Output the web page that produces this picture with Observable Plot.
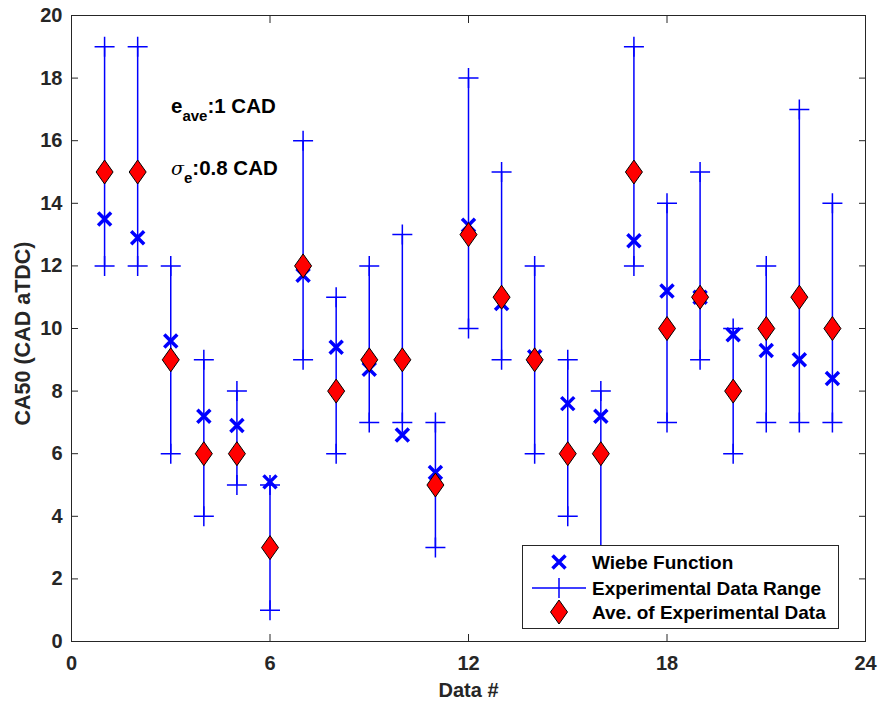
<!DOCTYPE html>
<html>
<head>
<meta charset="utf-8">
<script src="https://cdn.jsdelivr.net/npm/d3@7"></script>
<script src="https://cdn.jsdelivr.net/npm/@observablehq/plot@0.6"></script>
<style>
  body { margin: 0; background: #fff; }
  #wrap { position: relative; width: 879px; height: 704px; font-family: "Liberation Sans", Arial, Helvetica, sans-serif; color: #262626; }
  .ann { position: absolute; font-weight: bold; font-size: 20.5px; white-space: nowrap; line-height: 1; color: #000; }
  .ann sub { font-size: 15px; vertical-align: baseline; position: relative; top: 8px; }
  #legend { position: absolute; left: 522px; top: 545px; width: 317px; height: 84px; border: 1px solid #262626; background: #fff; box-sizing: border-box; }
  .row { position: absolute; left: 0; height: 24px; width: 100%; }
  .row svg { position: absolute; left: 0; top: 0; overflow: visible; }
  .row span { position: absolute; left: 69px; top: 3px; font-weight: bold; font-size: 19px; line-height: 1; color: #000; white-space: nowrap; }
</style>
</head>
<body>
<div id="wrap"></div>
<script>
const dataNum = [1,2,3,4,5,6,7,8,9,10,11,12,13,14,15,16,17,18,19,20,21,22,23];
const wiebe = [13.5,12.9,9.6,7.2,6.9,5.1,11.7,9.4,8.7,6.6,5.4,13.3,10.8,9.1,7.6,7.2,12.8,11.2,11.0,9.8,9.3,9.0,8.4];
const aveExp = [15,15,9,6,6,3,12,8,9,9,5,13,11,9,6,6,15,10,11,8,10,11,10];
const rangeMin = [12,12,6,4,5,1,9,6,7,7,3,10,9,6,4,2,12,7,9,6,7,7,7];
const rangeMax = [19,19,12,9,8,5,16,11,12,13,7,18,15,12,9,8,19,14,15,10,12,17,14];
const xTicks = [0,6,12,18,24];
const yTicks = [0,2,4,6,8,10,12,14,16,18,20];
const xLabel = "Data #";
const yLabel = "CA50 (CAD aTDC)";

const rows = dataNum.map((d, i) => ({x: d, wiebe: wiebe[i], ave: aveExp[i], lo: rangeMin[i], hi: rangeMax[i]}));
const ends = rows.flatMap(r => [{x: r.x, y: r.lo}, {x: r.x, y: r.hi}]);

const symX = {draw(ctx) { const a = 6.5; ctx.moveTo(-a, -a); ctx.lineTo(a, a); ctx.moveTo(-a, a); ctx.lineTo(a, -a); }};
const symPlus = {draw(ctx) { const a = 10; ctx.moveTo(-a, 0); ctx.lineTo(a, 0); ctx.moveTo(0, -a); ctx.lineTo(0, a); }};
const symDiamond = {draw(ctx) { const w = 8.5, h = 12; ctx.moveTo(0, -h); ctx.lineTo(w, 0); ctx.lineTo(0, h); ctx.lineTo(-w, 0); ctx.closePath(); }};

const blue = "#0000ff";
const ink = "#262626";

const chart = Plot.plot({
  width: 879,
  height: 704,
  marginLeft: 71,
  marginRight: 14,
  marginTop: 15,
  marginBottom: 63,
  style: {fontFamily: '"Liberation Sans", Arial, Helvetica, sans-serif', fontSize: "20px", fontWeight: "bold", color: ink, background: "#fff"},
  x: {domain: [0, 24]},
  y: {domain: [0, 20]},
  marks: [
    Plot.frame({stroke: ink, strokeWidth: 1}),
    Plot.axisX({anchor: "bottom", ticks: xTicks, tickSize: -7, tickFormat: () => "", label: null, stroke: ink}),
    Plot.axisX({anchor: "top", ticks: xTicks, tickSize: -7, tickFormat: () => "", label: null, stroke: ink}),
    Plot.axisY({anchor: "left", ticks: yTicks, tickSize: -7, tickFormat: () => "", label: null, stroke: ink}),
    Plot.axisY({anchor: "right", ticks: yTicks, tickSize: -7, tickFormat: () => "", label: null, stroke: ink}),
    Plot.axisX({anchor: "bottom", ticks: xTicks, tickSize: 0, tickPadding: 14, label: null, fill: ink}),
    Plot.axisY({anchor: "left", ticks: yTicks, tickSize: 0, tickPadding: 9, label: null, fill: ink}),
    Plot.text([xLabel], {frameAnchor: "bottom", text: d => d, dy: 49, lineAnchor: "middle", textAnchor: "middle", fontSize: 20, fontWeight: "bold", fill: ink}),
    Plot.text([yLabel], {frameAnchor: "left", text: d => d, dx: -48, dy: 5, rotate: -90, lineAnchor: "middle", textAnchor: "middle", fontSize: 21.5, fontWeight: "bold", fill: ink}),
    Plot.dot(rows, {x: "x", y: "wiebe", symbol: symX, r: 8, stroke: blue, strokeWidth: 3.5, fill: "none"}),
    Plot.ruleX(rows, {x: "x", y1: "lo", y2: "hi", stroke: blue, strokeWidth: 1.5}),
    Plot.dot(ends, {x: "x", y: "y", symbol: symPlus, r: 10, stroke: blue, strokeWidth: 1.5, fill: "none"}),
    Plot.dot(rows, {x: "x", y: "ave", symbol: symDiamond, r: 10, fill: "#ff0000", stroke: "#000", strokeWidth: 1})
  ]
});

const wrap = document.getElementById("wrap");
wrap.appendChild(chart);

const a1 = document.createElement("div");
a1.className = "ann";
a1.style.left = "171px"; a1.style.top = "96px";
a1.innerHTML = 'e<sub>ave</sub>:1 CAD';
wrap.appendChild(a1);

const a2 = document.createElement("div");
a2.className = "ann";
a2.style.left = "171px"; a2.style.top = "158px";
a2.innerHTML = '<span style="font-weight:normal;font-style:italic;font-family:\'DejaVu Serif\',serif;font-size:19px">σ</span><sub>e</sub>:0.8 CAD';
wrap.appendChild(a2);

const legend = document.createElement("div");
legend.id = "legend";
legend.innerHTML = `
  <div class="row" style="top:4px"><svg width="66" height="24"><path d="M29.5,5.5L42.5,18.5M29.5,18.5L42.5,5.5" stroke="${blue}" stroke-width="3.5" fill="none"/></svg><span>Wiebe Function</span></div>
  <div class="row" style="top:30px"><svg width="66" height="24"><path d="M9,12H63M36,2V22" stroke="${blue}" stroke-width="1.5" fill="none"/></svg><span>Experimental Data Range</span></div>
  <div class="row" style="top:54px"><svg width="66" height="24"><path d="M36,0L44.5,12L36,24L27.5,12Z" fill="#ff0000" stroke="#000" stroke-width="1"/></svg><span>Ave. of Experimental Data</span></div>
`;
wrap.appendChild(legend);
</script>
</body>
</html>
